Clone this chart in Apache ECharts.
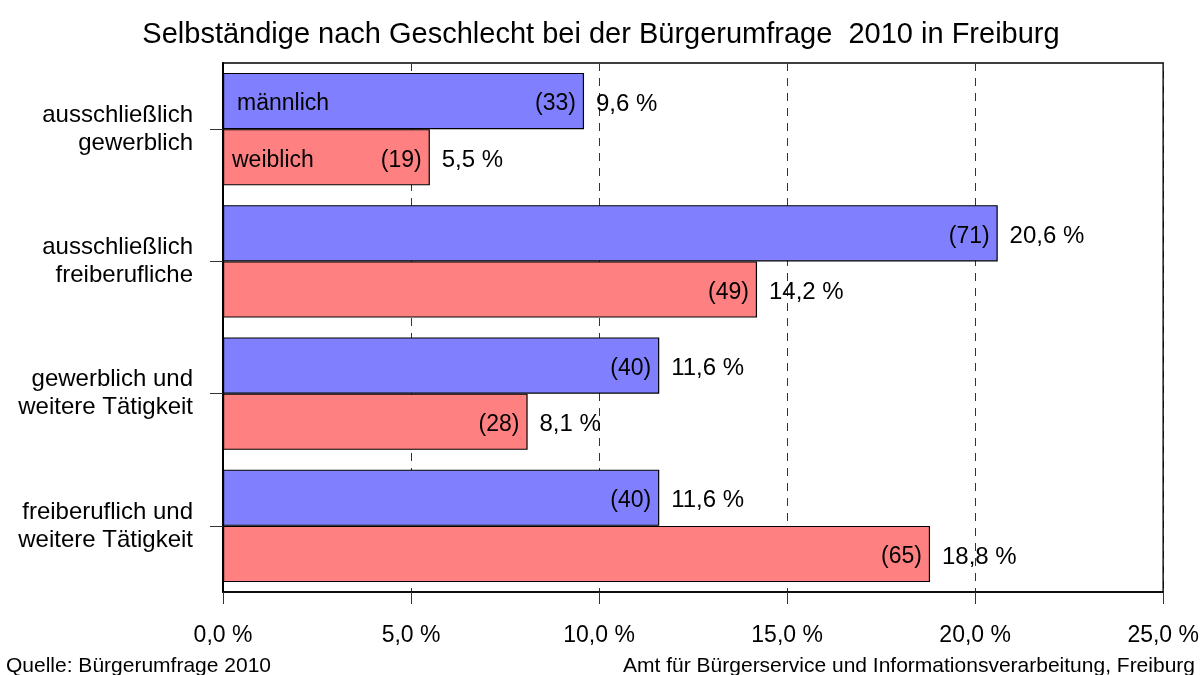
<!DOCTYPE html>
<html>
<head>
<meta charset="utf-8">
<title>Selbständige nach Geschlecht</title>
<script src="https://cdn.jsdelivr.net/npm/echarts@6/dist/echarts.min.js"></script>
<style>
  html, body { margin: 0; padding: 0; background: #fff; }
  #chart { width: 1202px; height: 675px; }
</style>
</head>
<body>
<div id="chart"></div>
<script>
// Daten: Anteil (%) und Fallzahl je Kategorie
const categories = [
  'ausschließlich\ngewerblich',
  'ausschließlich\nfreiberufliche',
  'gewerblich und\nweitere Tätigkeit',
  'freiberuflich und\nweitere Tätigkeit'
];
const malePct = [9.6, 20.6, 11.6, 11.6];
const maleCount = [33, 71, 40, 40];
const femalePct = [5.5, 14.2, 8.1, 18.8];
const femaleCount = [19, 49, 28, 65];

const FONT = 'Liberation Sans, Arial, sans-serif';

const fmtPct = v => v.toFixed(1).replace('.', ',') + ' %';

function valueLabel(counts) {
  return {
    show: true,
    position: 'right',
    distance: 0,
    offset: [-49, 3],
    fontFamily: FONT,
    fontSize: 23,
    color: '#000',
    formatter: p => `{n|(${counts[p.dataIndex]})}{p|${fmtPct(p.value)}}`,
    rich: {
      n: { fontFamily: FONT, fontSize: 23, color: '#000', padding: [0, 20, 0, 0] },
      p: { fontFamily: FONT, fontSize: 24, color: '#000' }
    }
  };
}

function nameMark(name, dx) {
  return {
    symbol: 'circle',
    symbolSize: 0,
    silent: true,
    data: [{ coord: [0, 0] }],
    label: {
      show: true,
      position: 'right',
      distance: 0,
      offset: [dx, 3],
      formatter: name,
      fontFamily: FONT,
      fontSize: 23,
      color: '#000'
    }
  };
}

const chart = echarts.init(document.getElementById('chart'));
chart.setOption({
  animation: false,
  backgroundColor: '#fff',
  title: {
    text: 'Selbständige nach Geschlecht bei der Bürgerumfrage  2010 in Freiburg',
    left: 'center',
    top: 15,
    textStyle: { fontFamily: FONT, fontSize: 29, fontWeight: 'normal', color: '#000' }
  },
  graphic: [
    {
      type: 'text', left: 6, top: 656,
      style: { text: 'Quelle: Bürgerumfrage 2010', font: '21px ' + FONT, fill: '#000' }
    },
    {
      type: 'text', right: 7, top: 656,
      style: { text: 'Amt für Bürgerservice und Informationsverarbeitung, Freiburg', font: '21px ' + FONT, fill: '#000' }
    }
  ],
  grid: {
    left: 223, right: 38, top: 63, bottom: 83,
    show: true, borderColor: '#000', borderWidth: 1.5,
    containLabel: false
  },
  xAxis: {
    type: 'value',
    min: 0, max: 25, interval: 5,
    axisLine: { show: true, lineStyle: { color: '#000', width: 1.5 } },
    axisTick: { show: true, length: 12, lineStyle: { color: '#333', width: 1 } },
    axisLabel: {
      fontFamily: FONT, fontSize: 23, color: '#000', margin: 32,
      formatter: v => v.toFixed(1).replace('.', ',') + ' %'
    },
    splitLine: { show: true, lineStyle: { color: '#333', type: [8, 7], width: 1 } }
  },
  yAxis: {
    type: 'category',
    inverse: true,
    data: categories,
    axisLine: { show: true, lineStyle: { color: '#000', width: 2 } },
    axisTick: { show: true, alignWithLabel: true, length: 13, lineStyle: { color: '#333' } },
    axisLabel: {
      fontFamily: FONT, fontSize: 24, color: '#000', margin: 30,
      lineHeight: 28, align: 'right', padding: [8, 0, 0, 0]
    }
  },
  series: [
    {
      name: 'männlich',
      type: 'bar',
      data: malePct,
      barWidth: '42.5%',
      barGap: '0%',
      itemStyle: { color: '#8080FF', borderColor: '#000', borderWidth: 1.2 },
      label: valueLabel(maleCount),
      markPoint: nameMark('männlich', 14)
    },
    {
      name: 'weiblich',
      type: 'bar',
      data: femalePct,
      barWidth: '42.5%',
      barGap: '0%',
      itemStyle: { color: '#FF8080', borderColor: '#000', borderWidth: 1.2 },
      label: valueLabel(femaleCount),
      markPoint: nameMark('weiblich', 9)
    }
  ]
});
</script>
</body>
</html>
